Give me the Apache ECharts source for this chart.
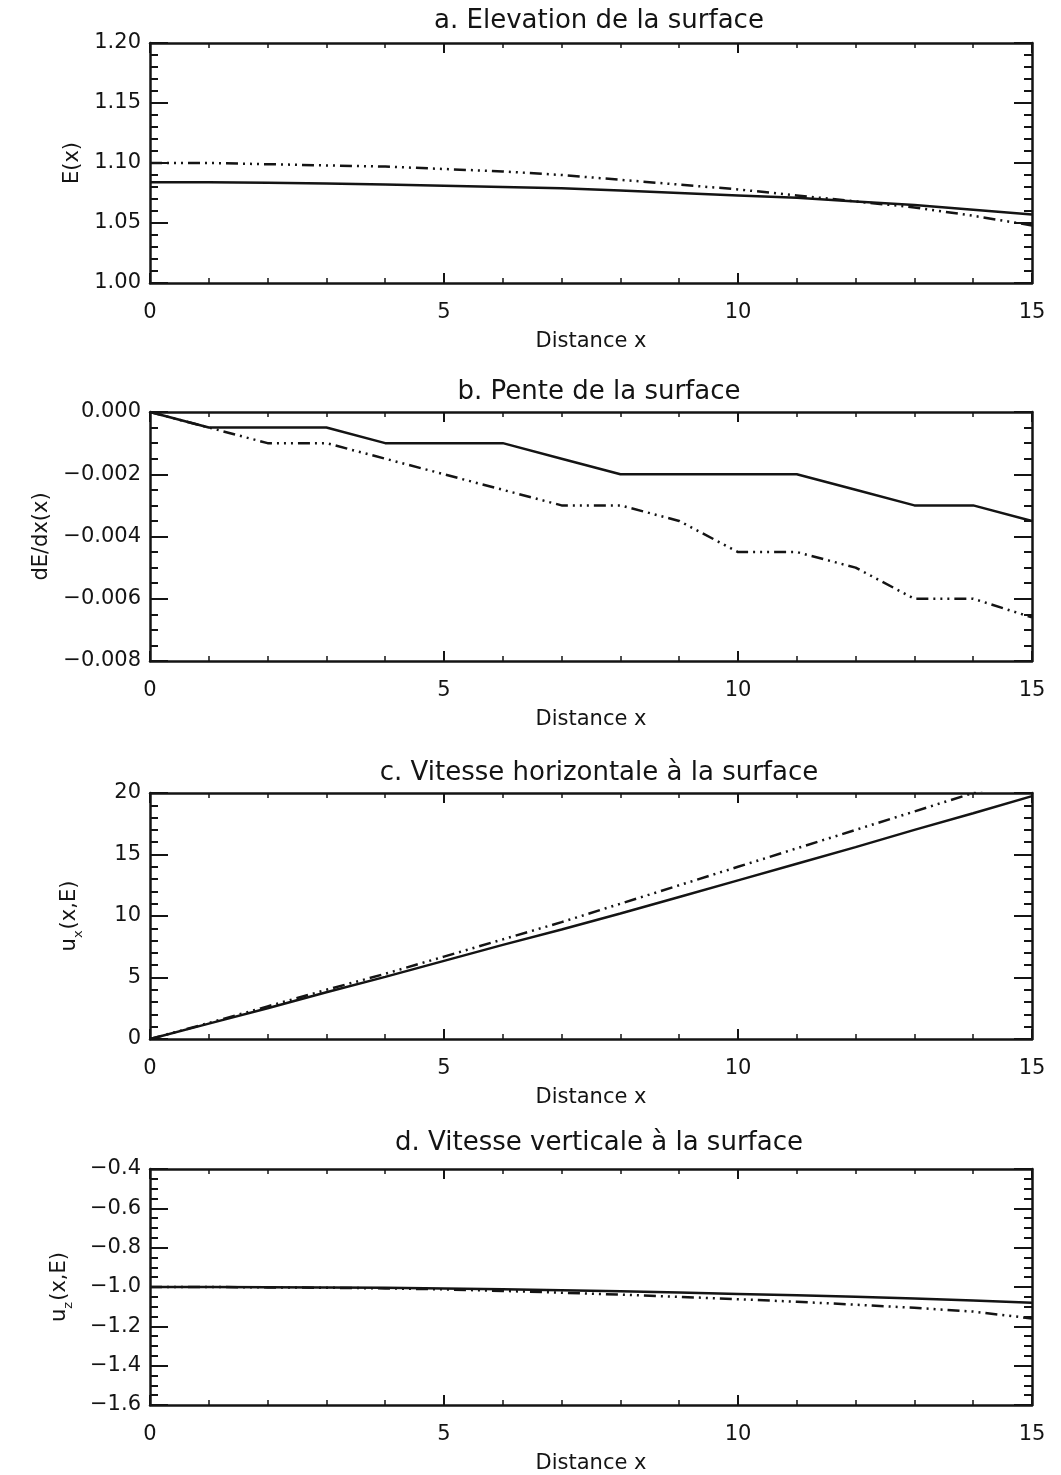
<!DOCTYPE html>
<html>
<head>
<meta charset="utf-8">
<script src="https://cdn.jsdelivr.net/npm/echarts@6/dist/echarts.min.js"></script>
<style>
html,body{margin:0;padding:0;background:#fff;}
#chart{width:1061px;height:1475px;}
</style>
</head>
<body>
<div id="chart"></div>
<script>
// ---- data ----
const xValues = [0,1,2,3,4,5,6,7,8,9,10,11,12,13,14,15];

const titles = [
  'a. Elevation de la surface',
  'b. Pente de la surface',
  'c. Vitesse horizontale à la surface',
  'd. Vitesse verticale à la surface'
];

// a. E(x)
const elevSolid = [1.084,1.084,1.0835,1.083,1.082,1.081,1.080,1.079,1.077,1.075,1.073,1.071,1.068,1.065,1.061,1.057];
const elevDash  = [1.100,1.100,1.099,1.098,1.097,1.095,1.093,1.090,1.086,1.082,1.078,1.073,1.068,1.063,1.056,1.048];

// b. dE/dx(x)
const slopeSolid = [0,-0.0005,-0.0005,-0.0005,-0.001,-0.001,-0.001,-0.0015,-0.002,-0.002,-0.002,-0.002,-0.0025,-0.003,-0.003,-0.0035];
const slopeDash  = [0,-0.0005,-0.001,-0.001,-0.0015,-0.002,-0.0025,-0.003,-0.003,-0.0035,-0.0045,-0.0045,-0.005,-0.006,-0.006,-0.0066];

// c. u_x(x,E)
const uxSolid = [0,1.25,2.5,3.8,5.05,6.35,7.65,8.9,10.2,11.55,12.9,14.25,15.6,17.0,18.35,19.75];
const uxDash  = [0,1.3,2.65,4.0,5.3,6.7,8.1,9.5,11.0,12.5,14.0,15.5,17.0,18.5,20.0,21.5];

// d. u_z(x,E)
const uzSolid = [-1.0,-1.0,-1.001,-1.002,-1.004,-1.008,-1.012,-1.017,-1.022,-1.028,-1.035,-1.042,-1.05,-1.059,-1.069,-1.08];
const uzDash  = [-1.0,-1.0,-1.002,-1.004,-1.007,-1.012,-1.02,-1.029,-1.039,-1.05,-1.062,-1.075,-1.09,-1.106,-1.125,-1.16];

// axis settings
const yMins      = [1.00, -0.008, 0, -1.6];
const yMaxs      = [1.20, 0.000, 20, -0.4];
const yIntervals = [0.05, 0.002, 5, 0.2];
const yMinorSplit= [5, 4, 5, 4];
const yDecimals  = [2, 3, 0, 1];
const yNames = [
  'E(x)',
  'dE/dx(x)',
  '{m|u}{s|x}{m|(x,E)}',
  '{m|u}{s|z}{m|(x,E)}'
];

// ---- layout ----
const FONT = 'DejaVu Sans';
const INK = '#141414';
const gridLeft = 150, gridWidth = 882;
const gridTops    = [43, 412, 793, 1169];
const gridHeights = [240, 249, 246, 240];
const yNameGaps   = [67, 94, 65, 75];
const titleCenters= [21, 392, 773, 1143];
const titleX = 599;

const dashPattern = [12,5,2,5,2,5,2,5];

function pairs(ys){ return xValues.map((x,i)=>[x, ys[i]]); }
function fmt(v, d){
  const s = Math.abs(v).toFixed(d);
  return (v < -1e-12 ? '\u2212' : '') + s;
}

const seriesData = [
  [elevSolid, elevDash],
  [slopeSolid, slopeDash],
  [uxSolid, uxDash],
  [uzSolid, uzDash]
];

const option = {
  backgroundColor: '#ffffff',
  animation: false,
  title: [], grid: [], xAxis: [], yAxis: [], series: []
};

for (let p = 0; p < 4; p++) {
  option.title.push({
    text: titles[p],
    left: titleX,
    top: titleCenters[p] - 13,
    textAlign: 'center',
    padding: 0,
    textStyle: {fontFamily: FONT, fontSize: 26, fontWeight: 'normal', color: INK}
  });
  option.grid.push({left: gridLeft, top: gridTops[p], width: gridWidth, height: gridHeights[p], containLabel: false});

  const xLen = Math.round(gridHeights[p]*0.04);
  const baseX = {
    type: 'value', gridIndex: p, min: 0, max: 15, interval: 5,
    axisLine: {show: true, onZero: false, lineStyle: {color: INK, width: 2.5}},
    axisTick: {show: true, inside: true, length: xLen, lineStyle: {color: INK, width: 2}},
    minorTick: {show: true, splitNumber: 5, length: Math.round(xLen/2), lineStyle: {color: INK, width: 1.5}},
    splitLine: {show: false}
  };
  option.xAxis.push(Object.assign({}, baseX, {
    position: 'bottom',
    name: 'Distance x', nameLocation: 'middle', nameGap: 48,
    nameTextStyle: {fontFamily: FONT, fontSize: 21, color: INK},
    axisLabel: {show: true, margin: 19, fontFamily: FONT, fontSize: 21, color: INK}
  }));
  option.xAxis.push(Object.assign({}, baseX, {
    position: 'top', axisLabel: {show: false}
  }));

  const baseY = {
    type: 'value', gridIndex: p, min: yMins[p], max: yMaxs[p], interval: yIntervals[p],
    axisLine: {show: true, onZero: false, lineStyle: {color: INK, width: 2.5}},
    axisTick: {show: true, inside: true, length: 18, lineStyle: {color: INK, width: 2}},
    minorTick: {show: true, splitNumber: yMinorSplit[p], length: 8, lineStyle: {color: INK, width: 2}},
    splitLine: {show: false}
  };
  const d = yDecimals[p];
  option.yAxis.push(Object.assign({}, baseY, {
    position: 'left',
    name: yNames[p], nameLocation: 'middle', nameGap: yNameGaps[p], nameRotate: 90,
    nameTextStyle: {
      fontFamily: FONT, fontSize: 21, color: INK,
      rich: {
        m: {fontFamily: FONT, fontSize: 21, color: INK, lineHeight: 30, verticalAlign: 'middle'},
        s: {fontFamily: FONT, fontSize: 13, color: INK, lineHeight: 30, verticalAlign: 'bottom', padding: [0,1,0,0]}
      }
    },
    axisLabel: {show: true, margin: 9, fontFamily: FONT, fontSize: 21, color: INK,
      formatter: v => fmt(v, d)}
  }));
  option.yAxis.push(Object.assign({}, baseY, {
    position: 'right', axisLabel: {show: false}
  }));

  const [s1, s2] = seriesData[p];
  option.series.push({
    type: 'line', xAxisIndex: 2*p, yAxisIndex: 2*p, data: pairs(s1),
    showSymbol: false, symbol: 'none', clip: true, silent: true,
    lineStyle: {color: INK, width: 2.5, type: 'solid'}
  });
  option.series.push({
    type: 'line', xAxisIndex: 2*p, yAxisIndex: 2*p, data: pairs(s2),
    showSymbol: false, symbol: 'none', clip: true, silent: true,
    lineStyle: {color: INK, width: 2.5, type: dashPattern}
  });
}

const chart = echarts.init(document.getElementById('chart'), null, {renderer: 'canvas'});
chart.setOption(option);
</script>
</body>
</html>
